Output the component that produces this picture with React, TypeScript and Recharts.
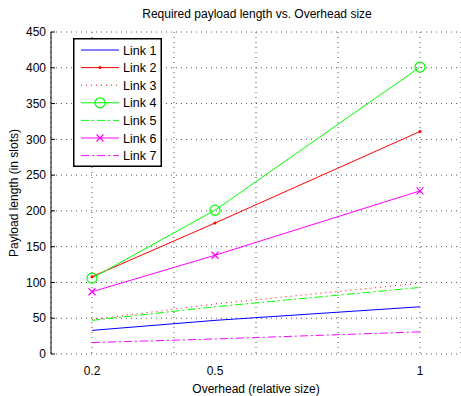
import { CartesianGrid, Line, LineChart, XAxis, YAxis } from "recharts";

const overhead = [0.2, 0.5, 1];
const link1 = [33, 47, 66];
const link2 = [108, 183, 311];
const link3 = [48, 70, 99];
const link4 = [106, 201, 401];
const link5 = [47, 66, 93];
const link6 = [87, 138, 228];
const link7 = [16, 21, 31];

const gridTicks = [0.2, 0.4, 0.6, 0.8, 1];
const labelTicks = [0.2, 0.5, 1];
const yTicks = [0, 50, 100, 150, 200, 250, 300, 350, 400, 450];

const data = overhead.map((x, i) => ({
  x,
  l1: link1[i],
  l2: link2[i],
  l3: link3[i],
  l4: link4[i],
  l5: link5[i],
  l6: link6[i],
  l7: link7[i],
}));

const font = "'Liberation Sans', Arial, sans-serif";

type Marker = "none" | "point" | "circle" | "cross";

const series: { key: string; name: string; color: string; dash?: string; marker: Marker }[] = [
  { key: "l1", name: "Link 1", color: "#0000ff", marker: "none" },
  { key: "l2", name: "Link 2", color: "#ff0000", marker: "point" },
  { key: "l3", name: "Link 3", color: "#ff0000", dash: "1 4", marker: "none" },
  { key: "l4", name: "Link 4", color: "#00ff00", marker: "circle" },
  { key: "l5", name: "Link 5", color: "#00ff00", dash: "8 3 2 3", marker: "none" },
  { key: "l6", name: "Link 6", color: "#ff00ff", marker: "cross" },
  { key: "l7", name: "Link 7", color: "#ff00ff", dash: "8 3 2 3", marker: "none" },
];

const drawMarker = (m: Marker, color: string, cx: number, cy: number, key?: any) => {
  if (m === "point") return <circle key={key} cx={cx} cy={cy} r={1.5} fill={color} stroke="none" />;
  if (m === "circle")
    return <circle key={key} cx={cx} cy={cy} r={5} fill="none" stroke={color} strokeWidth={1.2} />;
  if (m === "cross")
    return (
      <path
        key={key}
        d={`M${cx - 3.5},${cy - 3.5}L${cx + 3.5},${cy + 3.5}M${cx - 3.5},${cy + 3.5}L${cx + 3.5},${cy - 3.5}`}
        stroke={color}
        strokeWidth={1.2}
      />
    );
  return <g key={key} />;
};

const LegendBox = () => (
  <svg width={89} height={129} style={{ display: "block" }}>
    <rect x={0.75} y={0.75} width={87.5} height={127.5} fill="#fff" stroke="#000" strokeWidth={1.5} />
    {series.map((s, i) => {
      const y = 12 + i * 17.6;
      return (
        <g key={s.key}>
          <line x1={8} x2={46} y1={y} y2={y} stroke={s.color} strokeDasharray={s.dash} strokeWidth={1} />
          {drawMarker(s.marker, s.color, 27, y)}
          <text x={50} y={y + 4.5} fontSize={12.5} fontFamily={font} fill="#000">
            {s.name}
          </text>
        </g>
      );
    })}
  </svg>
);

const blank = () => <g />;

export default function App() {
  return (
    <div style={{ position: "absolute", left: 0, top: 0 }}>
      <LineChart width={461} height={396} data={data} margin={{ top: 32, right: 0, bottom: 0, left: 0 }}>
        <text x={257} y={18} textAnchor="middle" fontSize={12} fontFamily={font} fill="#000">
          Required payload length vs. Overhead size
        </text>
        <CartesianGrid xAxisId="g" stroke="#555" strokeDasharray="1 4" />
        <XAxis
          xAxisId="g"
          dataKey="x"
          type="number"
          domain={[0.1, 1.1]}
          ticks={gridTicks}
          tick={blank}
          tickSize={-4}
          height={0}
          stroke="#000"
          allowDataOverflow
        />
        <XAxis
          xAxisId="l"
          dataKey="x"
          type="number"
          domain={[0.1, 1.1]}
          ticks={labelTicks}
          axisLine={false}
          tickLine={false}
          tickMargin={6}
          height={42}
          tick={{ fontSize: 12, fontFamily: font, fill: "#000" }}
          tickFormatter={(v: number) => String(v)}
          label={{ value: "Overhead (relative size)", position: "insideBottom", offset: 3, fontSize: 12, fontFamily: font, fill: "#000" }}
        />
        <YAxis
          domain={[0, 450]}
          ticks={yTicks}
          width={51}
          tickSize={-4}
          tickMargin={9}
          stroke="#000"
          tick={{ fontSize: 12, fontFamily: font, fill: "#000" }}
          label={{ value: "Payload length (in slots)", angle: -90, position: "insideLeft", offset: 14, style: { textAnchor: "middle" }, fontSize: 12, fontFamily: font, fill: "#000" }}
        />
        {series.map((s) => (
          <Line
            key={s.key}
            xAxisId="g"
            dataKey={s.key}
            name={s.name}
            stroke={s.color}
            strokeWidth={1}
            strokeDasharray={s.dash}
            isAnimationActive={false}
            dot={(p: any) => drawMarker(s.marker, s.color, p.cx, p.cy, `${s.key}-${p.index}`)}
            activeDot={false}
          />
        ))}
      </LineChart>
      <div style={{ position: "absolute", left: 73, top: 38 }}>
        <LegendBox />
      </div>
    </div>
  );
}
